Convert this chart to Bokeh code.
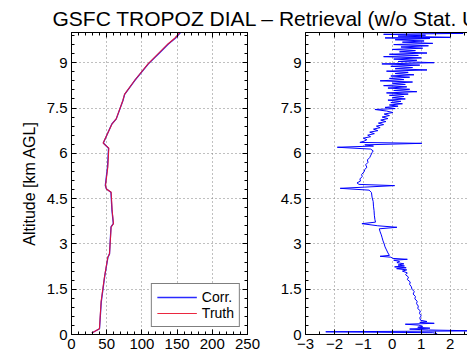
from bokeh.plotting import figure
from bokeh.layouts import column, row
from bokeh.models import FixedTicker, LinearAxis, Label, Legend, LegendItem, Range1d
from bokeh.embed import file_html
from bokeh.resources import INLINE

FONT = "Liberation Sans"

# Ozone mixing-ratio profile: altitude [km AGL] vs ozone [ppbv]
profile_alt_km = [0.05, 0.19, 1.08, 1.90, 2.56, 2.67, 3.56, 3.67, 4.10, 4.71, 4.82, 4.93,
                  5.54, 6.17, 6.34, 6.97, 7.14, 7.75, 7.95, 8.41, 8.96, 9.34, 9.62, 9.81, 10.05]
truth_mr_ppbv = [28.8, 39.7, 42.0, 46.8, 51.6, 54.0, 56.3, 59.6, 57.8, 56.3, 49.6, 48.3,
                 51.6, 53.0, 45.0, 57.5, 63.5, 73.0, 75.3, 89.6, 108.7, 125.0, 137.0, 146.6, 156.0]
corr_mr_ppbv = [28.9, 39.8, 42.3, 47.0, 51.8, 54.0, 56.1, 59.4, 57.5, 56.0, 49.7, 48.0,
                51.1, 52.6, 45.2, 57.3, 63.6, 73.1, 75.5, 89.8, 109.2, 125.6, 137.6, 147.5, 156.8]

# Corrected minus truth, in percent
diff_alt_km = [
    0.03, 0.06, 0.09, 0.12, 0.15, 0.18, 0.21, 0.24, 0.27, 0.31, 0.34, 0.37, 0.40, 0.43, 0.47,
    0.55, 0.62, 0.70, 0.78, 0.86, 0.94, 1.02, 1.10, 1.18, 1.26, 1.34, 1.42, 1.50, 1.58, 1.66,
    1.74, 1.82, 1.90, 1.98, 2.04, 2.10, 2.14, 2.18, 2.21, 2.24, 2.27, 2.30, 2.34, 2.38, 2.42,
    2.46, 2.49, 2.52, 2.56, 2.59, 2.62, 2.70, 2.80, 2.90, 3.00, 3.10, 3.20, 3.30, 3.40, 3.50,
    3.55, 3.60, 3.67, 3.72, 3.80, 3.95, 4.10, 4.25, 4.40, 4.55, 4.70, 4.78, 4.84, 4.88, 4.93,
    4.97, 5.02, 5.08, 5.15, 5.23, 5.30, 5.38, 5.46, 5.54, 5.62, 5.70, 5.78, 5.86, 5.94, 6.02,
    6.08, 6.14, 6.20, 6.24, 6.28, 6.33, 6.36, 6.40, 6.45, 6.50, 6.55, 6.60, 6.65, 6.70, 6.75,
    6.80, 6.85, 6.90, 6.95, 7.00, 7.05, 7.10, 7.15, 7.20, 7.25, 7.30, 7.35, 7.40, 7.45, 7.48,
    7.52, 7.56, 7.60, 7.64, 7.68, 7.72, 7.76, 7.80, 7.84, 7.88, 7.92, 7.96, 8.00, 8.04, 8.08,
    8.12, 8.16, 8.20, 8.24, 8.28, 8.32, 8.36, 8.40, 8.44, 8.48, 8.52, 8.56, 8.60, 8.64, 8.68,
    8.72, 8.76, 8.80, 8.84, 8.88, 8.92, 8.96, 9.00, 9.04, 9.08, 9.12, 9.16, 9.20, 9.24, 9.28,
    9.32, 9.36, 9.40, 9.44, 9.48, 9.52, 9.56, 9.60, 9.64, 9.68, 9.72, 9.76, 9.80, 9.82, 9.84,
    9.88, 9.91, 9.94, 9.97, 10.0,
]
diff_pct = [
    1.55, 1.40, -2.30, 2.90, 1.25, 0.60, 1.30, 0.88, 1.05, 0.92, 0.45, 1.45, 0.95, 1.20, 0.98,
    0.95, 1.00, 0.94, 0.97, 0.88, 0.90, 0.84, 0.86, 0.78, 0.80, 0.72, 0.76, 0.68, 0.66, 0.60,
    0.62, 0.52, 0.56, 0.46, 0.52, 0.35, 0.50, 0.15, 0.48, 0.08, 0.42, 0.20, 0.40, 0.16, 0.25,
    0.05, 0.52, 0.02, -0.05, -0.42, -0.10, -0.15, -0.20, -0.25, -0.28, -0.32, -0.35, -0.38, -0.42, -0.45,
    0.16, -0.50, -1.05, -0.58, -0.60, -0.62, -0.63, -0.65, -0.66, -0.70, -0.72, -0.80, -1.80, -0.95, 0.08,
    -1.15, -1.22, -1.10, -1.12, -1.04, -1.06, -0.98, -0.95, -0.88, -0.92, -0.84, -0.86, -0.78, -0.74, -0.70,
    -0.66, -0.75, -1.90, -0.65, -0.95, 1.02, -1.12, -0.98, -0.88, -1.00, -0.75, -0.85, -0.62, -0.78, -0.50,
    -0.65, -0.42, -0.55, -0.30, -0.48, -0.22, -0.40, -0.15, -0.35, -0.10, -0.28, 0.02, -0.20, -0.60, 0.10,
    -0.25, 0.20, -0.10, 0.35, -0.05, 0.30, -0.15, 0.45, 0.00, 0.40, -0.10, 0.55, -0.20, 0.85, 0.05,
    0.60, -0.15, 0.50, -0.30, 0.45, 0.00, 0.70, -0.42, 0.40, -0.10, 0.60, -0.05, 0.75, 0.10, 0.55,
    -0.20, 1.20, 0.10, 0.70, -0.05, 0.95, -0.36, 1.45, 0.20, 0.85, 0.05, 1.00, -0.30, 0.90, -0.10,
    1.20, 0.25, 0.80, 0.00, 1.05, 0.30, 1.25, 0.05, 1.40, 0.35, 1.10, 0.10, 1.30, -0.25, 2.00,
    0.20, 1.15, -0.30, 2.45, 0.60,
]

alt_ticks = [0, 1.5, 3, 4.5, 6, 7.5, 9]
alt_minor = [i * 0.3 for i in range(0, 34)]
mr_ticks = [0, 50, 100, 150, 200, 250]
mr_minor = list(range(0, 251, 10))
diff_ticks = [-3, -2, -1, 0, 1, 2, 3]
diff_minor = [-3 + 0.5 * i for i in range(13)]
diff_tick_labels = {-3: "\u22123", -2: "\u22122", -1: "\u22121", 0: "0", 1: "1", 2: "2", 3: "3"}

TITLE = "GSFC TROPOZ DIAL \u2013 Retrieval (w/o Stat. Uncertainty)"
ALT_LABEL = "Altitude [km AGL]"
MR_LABEL = "Ozone MR [ppbv]"
DIFF_LABEL = "Ozone Difference [%]"


def style_axis(ax, ticks, minor, show_labels=True):
    ax.ticker = FixedTicker(ticks=ticks, minor_ticks=minor)
    ax.major_tick_in = 5
    ax.major_tick_out = 0
    ax.minor_tick_in = 3
    ax.minor_tick_out = 0
    ax.axis_line_color = "black"
    ax.major_tick_line_color = "black"
    ax.minor_tick_line_color = "black"
    ax.major_label_text_font = FONT
    ax.major_label_text_color = "black"
    if show_labels:
        ax.major_label_text_font_size = "15px"
        ax.major_label_standoff = 4
    else:
        # box side only: ticks without numbers
        ax.major_label_overrides = {t: "" for t in ticks}
        ax.major_label_text_font_size = "1px"
        ax.major_label_standoff = 0


def style_grid(p, xticks, yticks):
    p.xgrid.ticker = FixedTicker(ticks=xticks)
    p.ygrid.ticker = FixedTicker(ticks=yticks)
    for g in (p.xgrid, p.ygrid):
        g.grid_line_color = "#808080"
        g.grid_line_dash = "1 3"
        g.grid_line_width = 1


# --- title strip ---
tf = figure(width=467, height=32, x_range=Range1d(0, 467), y_range=Range1d(0, 32),
            output_backend="svg", toolbar_location=None, min_border=0,
            x_axis_location=None, y_axis_location=None, outline_line_color=None)
tf.grid.visible = False
tf.add_layout(Label(x=52, y=14, text=TITLE, text_font=FONT, text_font_size="21px",
                    text_color="black", text_align="left", text_baseline="alphabetic"))

# --- left panel: ozone mixing ratio ---
p1 = figure(width=262, height=330, x_range=Range1d(0, 250), y_range=Range1d(0, 10),
            output_backend="svg", toolbar_location=None,
            min_border_left=71, min_border_right=15, min_border_top=0, min_border_bottom=28,
            outline_line_color="black")
style_axis(p1.xaxis[0], mr_ticks, mr_minor)
style_axis(p1.yaxis[0], alt_ticks, alt_minor)
p1.yaxis[0].axis_label = ALT_LABEL
p1.yaxis[0].axis_label_text_font = FONT
p1.yaxis[0].axis_label_text_font_size = "16px"
p1.yaxis[0].axis_label_text_font_style = "normal"
p1.yaxis[0].axis_label_text_color = "black"
p1.yaxis[0].axis_label_standoff = 6
top1 = LinearAxis()
style_axis(top1, mr_ticks, mr_minor, show_labels=False)
p1.add_layout(top1, "above")
right1 = LinearAxis()
style_axis(right1, alt_ticks, alt_minor, show_labels=False)
p1.add_layout(right1, "right")
style_grid(p1, mr_ticks, alt_ticks)

r_corr = p1.line(corr_mr_ppbv, profile_alt_km, line_color="#2a2aff", line_width=1.3)
r_truth = p1.line(truth_mr_ppbv, profile_alt_km, line_color="#e8102a", line_width=1.1, line_alpha=0.9)

legend = Legend(items=[LegendItem(label="Corr.", renderers=[r_corr]),
                       LegendItem(label="Truth", renderers=[r_truth])],
                location="bottom_right", margin=7, padding=5, spacing=0,
                glyph_width=40, glyph_height=16, label_height=16, label_standoff=5,
                label_text_font=FONT, label_text_font_size="14px", label_text_color="black",
                border_line_color="black", border_line_width=1,
                background_fill_color="white", background_fill_alpha=1.0)
p1.add_layout(legend)
p1.add_layout(Label(x=125, y=-0.66, text=MR_LABEL, text_font=FONT, text_font_size="17px",
                    text_align="center", text_baseline="top", text_color="black"))

# --- right panel: percent difference ---
p2 = figure(width=205, height=330, x_range=Range1d(-3, 2.6), y_range=Range1d(0, 10),
            output_backend="svg", toolbar_location=None,
            min_border_left=43, min_border_right=0, min_border_top=0, min_border_bottom=28,
            outline_line_color=None)
style_axis(p2.xaxis[0], diff_ticks, diff_minor)
p2.xaxis[0].major_label_overrides = diff_tick_labels
style_axis(p2.yaxis[0], alt_ticks, alt_minor)
top2 = LinearAxis()
style_axis(top2, diff_ticks, diff_minor, show_labels=False)
p2.add_layout(top2, "above")
style_grid(p2, diff_ticks, alt_ticks)

p2.line(diff_pct, diff_alt_km, line_color="#0000ff", line_width=1.0)
p2.add_layout(Label(x=0, y=-0.66, text=DIFF_LABEL, text_font=FONT, text_font_size="17px",
                    text_align="center", text_baseline="top", text_color="black"))

layout = column(tf, row(p1, p2, spacing=0), spacing=0)

with open("out.html", "w") as f:
    f.write(file_html(layout, INLINE))
